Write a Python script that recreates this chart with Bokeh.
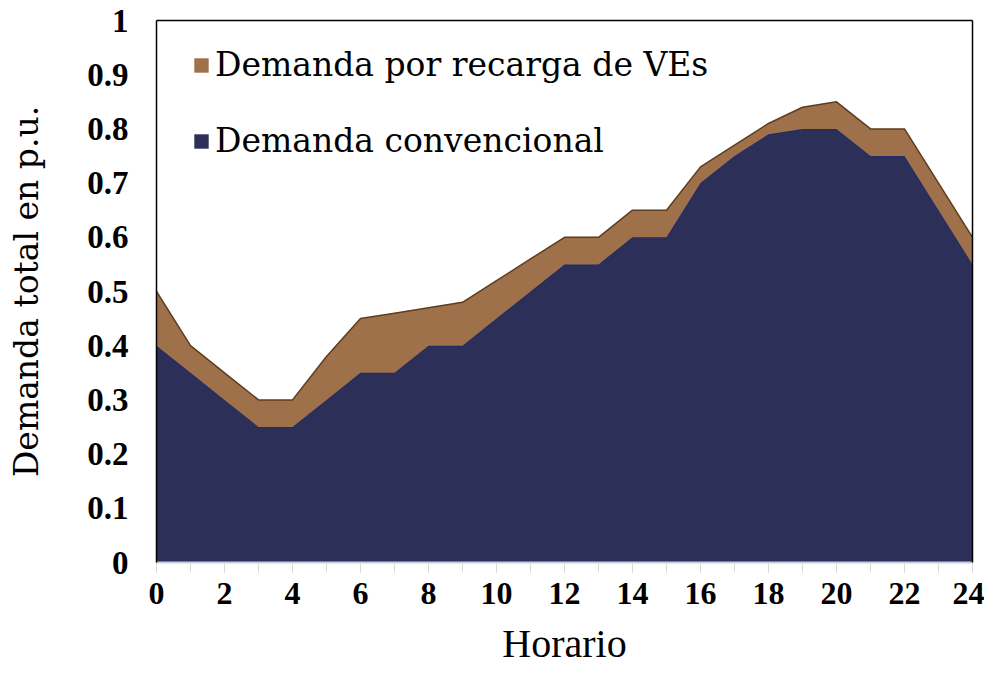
import numpy as np
from bokeh.plotting import figure
from bokeh.models import (FixedTicker, LinearAxis, Legend, LegendItem, Range1d,
                          ColumnDataSource, CustomJSTickFormatter)
from bokeh.embed import file_html
from bokeh.resources import INLINE

hours = list(range(25))
conventional = [0.40, 0.35, 0.30, 0.25, 0.25, 0.30, 0.35, 0.35, 0.40, 0.40, 0.45, 0.50,
                0.55, 0.55, 0.60, 0.60, 0.70, 0.75, 0.79, 0.80, 0.80, 0.75, 0.75, 0.65, 0.55]
ev_charging = [0.10, 0.05, 0.05, 0.05, 0.05, 0.08, 0.10, 0.11, 0.07, 0.08, 0.07, 0.06,
               0.05, 0.05, 0.05, 0.05, 0.03, 0.02, 0.02, 0.04, 0.05, 0.05, 0.05, 0.05, 0.05]
x_ticks = list(range(0, 25, 2))
y_ticks = [0, 0.1, 0.2, 0.3, 0.4, 0.5, 0.6, 0.7, 0.8, 0.9, 1.0]

total = [round(c + e, 4) for c, e in zip(conventional, ev_charging)]
src = ColumnDataSource(dict(x=hours, zero=[0] * len(hours), conv=conventional, total=total))

p = figure(width=984, height=668, output_backend="svg", toolbar_location=None,
           x_range=Range1d(0, 24), y_range=Range1d(0, 1),
           min_border_left=156, min_border_right=12, min_border_top=20, min_border_bottom=96)
p.outline_line_color = None
p.xgrid.visible = False
p.ygrid.visible = False
p.background_fill_color = "white"

NAVY = "#2c2f57"
BROWN = "#9e714b"

r_conv = p.varea(x="x", y1="zero", y2="conv", source=src, fill_color=NAVY)
p.line(x="x", y="conv", source=src, line_color="#1e2b6e", line_width=1.5)
r_ev = p.varea(x="x", y1="conv", y2="total", source=src, fill_color=BROWN)
p.line(x="x", y="total", source=src, line_color="#5e3d1e", line_width=1.5)

# x axis
xa = p.xaxis[0]
xa.ticker = FixedTicker(ticks=x_ticks, minor_ticks=hours)
xa.axis_line_color = "#c9cbe2"
xa.axis_line_width = 2
xa.major_tick_line_color = "#d8d8d8"
xa.minor_tick_line_color = "#d8d8d8"
xa.major_tick_in = 0
xa.major_tick_out = 10
xa.minor_tick_in = 0
xa.minor_tick_out = 10
xa.major_label_standoff = 10
xa.major_label_text_font = "Liberation Serif"
xa.major_label_text_font_style = "bold"
xa.major_label_text_font_size = "32px"
xa.major_label_text_color = "black"
xa.axis_label = "Horario"
xa.axis_label_text_font = "Liberation Serif"
xa.axis_label_text_font_style = "normal"
xa.axis_label_text_font_size = "40px"
xa.axis_label_text_color = "black"
xa.axis_label_standoff = 14

# y axis
ya = p.yaxis[0]
ya.ticker = FixedTicker(ticks=y_ticks)
ya.formatter = CustomJSTickFormatter(
    code="var t = Math.round(tick*10)/10; return t==1 ? '1' : (t==0 ? '0' : t.toFixed(1));")
ya.axis_line_color = "black"
ya.axis_line_width = 1.5
ya.major_tick_line_color = None
ya.minor_tick_line_color = None
ya.major_tick_out = 0
ya.major_tick_in = 0
ya.major_label_standoff = 28
ya.major_label_text_font = "Liberation Serif"
ya.major_label_text_font_style = "bold"
ya.major_label_text_font_size = "33px"
ya.major_label_text_color = "black"
ya.axis_label = "Demanda total en p.u."
ya.axis_label_text_font = "DejaVu Serif"
ya.axis_label_text_font_style = "normal"
ya.axis_label_text_font_size = "33px"
ya.axis_label_text_color = "black"
ya.axis_label_standoff = 38

# frame box (top and right)
for loc in ("above", "right"):
    ax = LinearAxis(major_tick_line_color=None, minor_tick_line_color=None,
                    major_label_text_font_size="0px", axis_line_color="black",
                    axis_line_width=1.5)
    ax.ticker = FixedTicker(ticks=[])
    p.add_layout(ax, loc)

legend = Legend(items=[LegendItem(label="Demanda por recarga de VEs", renderers=[r_ev]),
                       LegendItem(label="Demanda convencional", renderers=[r_conv])],
                location=(36, 402))
legend.label_text_font = "DejaVu Serif"
legend.label_text_font_size = "33px"
legend.label_text_color = "black"
legend.glyph_width = 18
legend.glyph_height = 18
legend.label_standoff = 5
legend.spacing = 37
legend.padding = 0
legend.margin = 0
legend.border_line_color = None
legend.background_fill_alpha = 0
p.add_layout(legend)

open("out.html", "w").write(file_html(p, INLINE))
